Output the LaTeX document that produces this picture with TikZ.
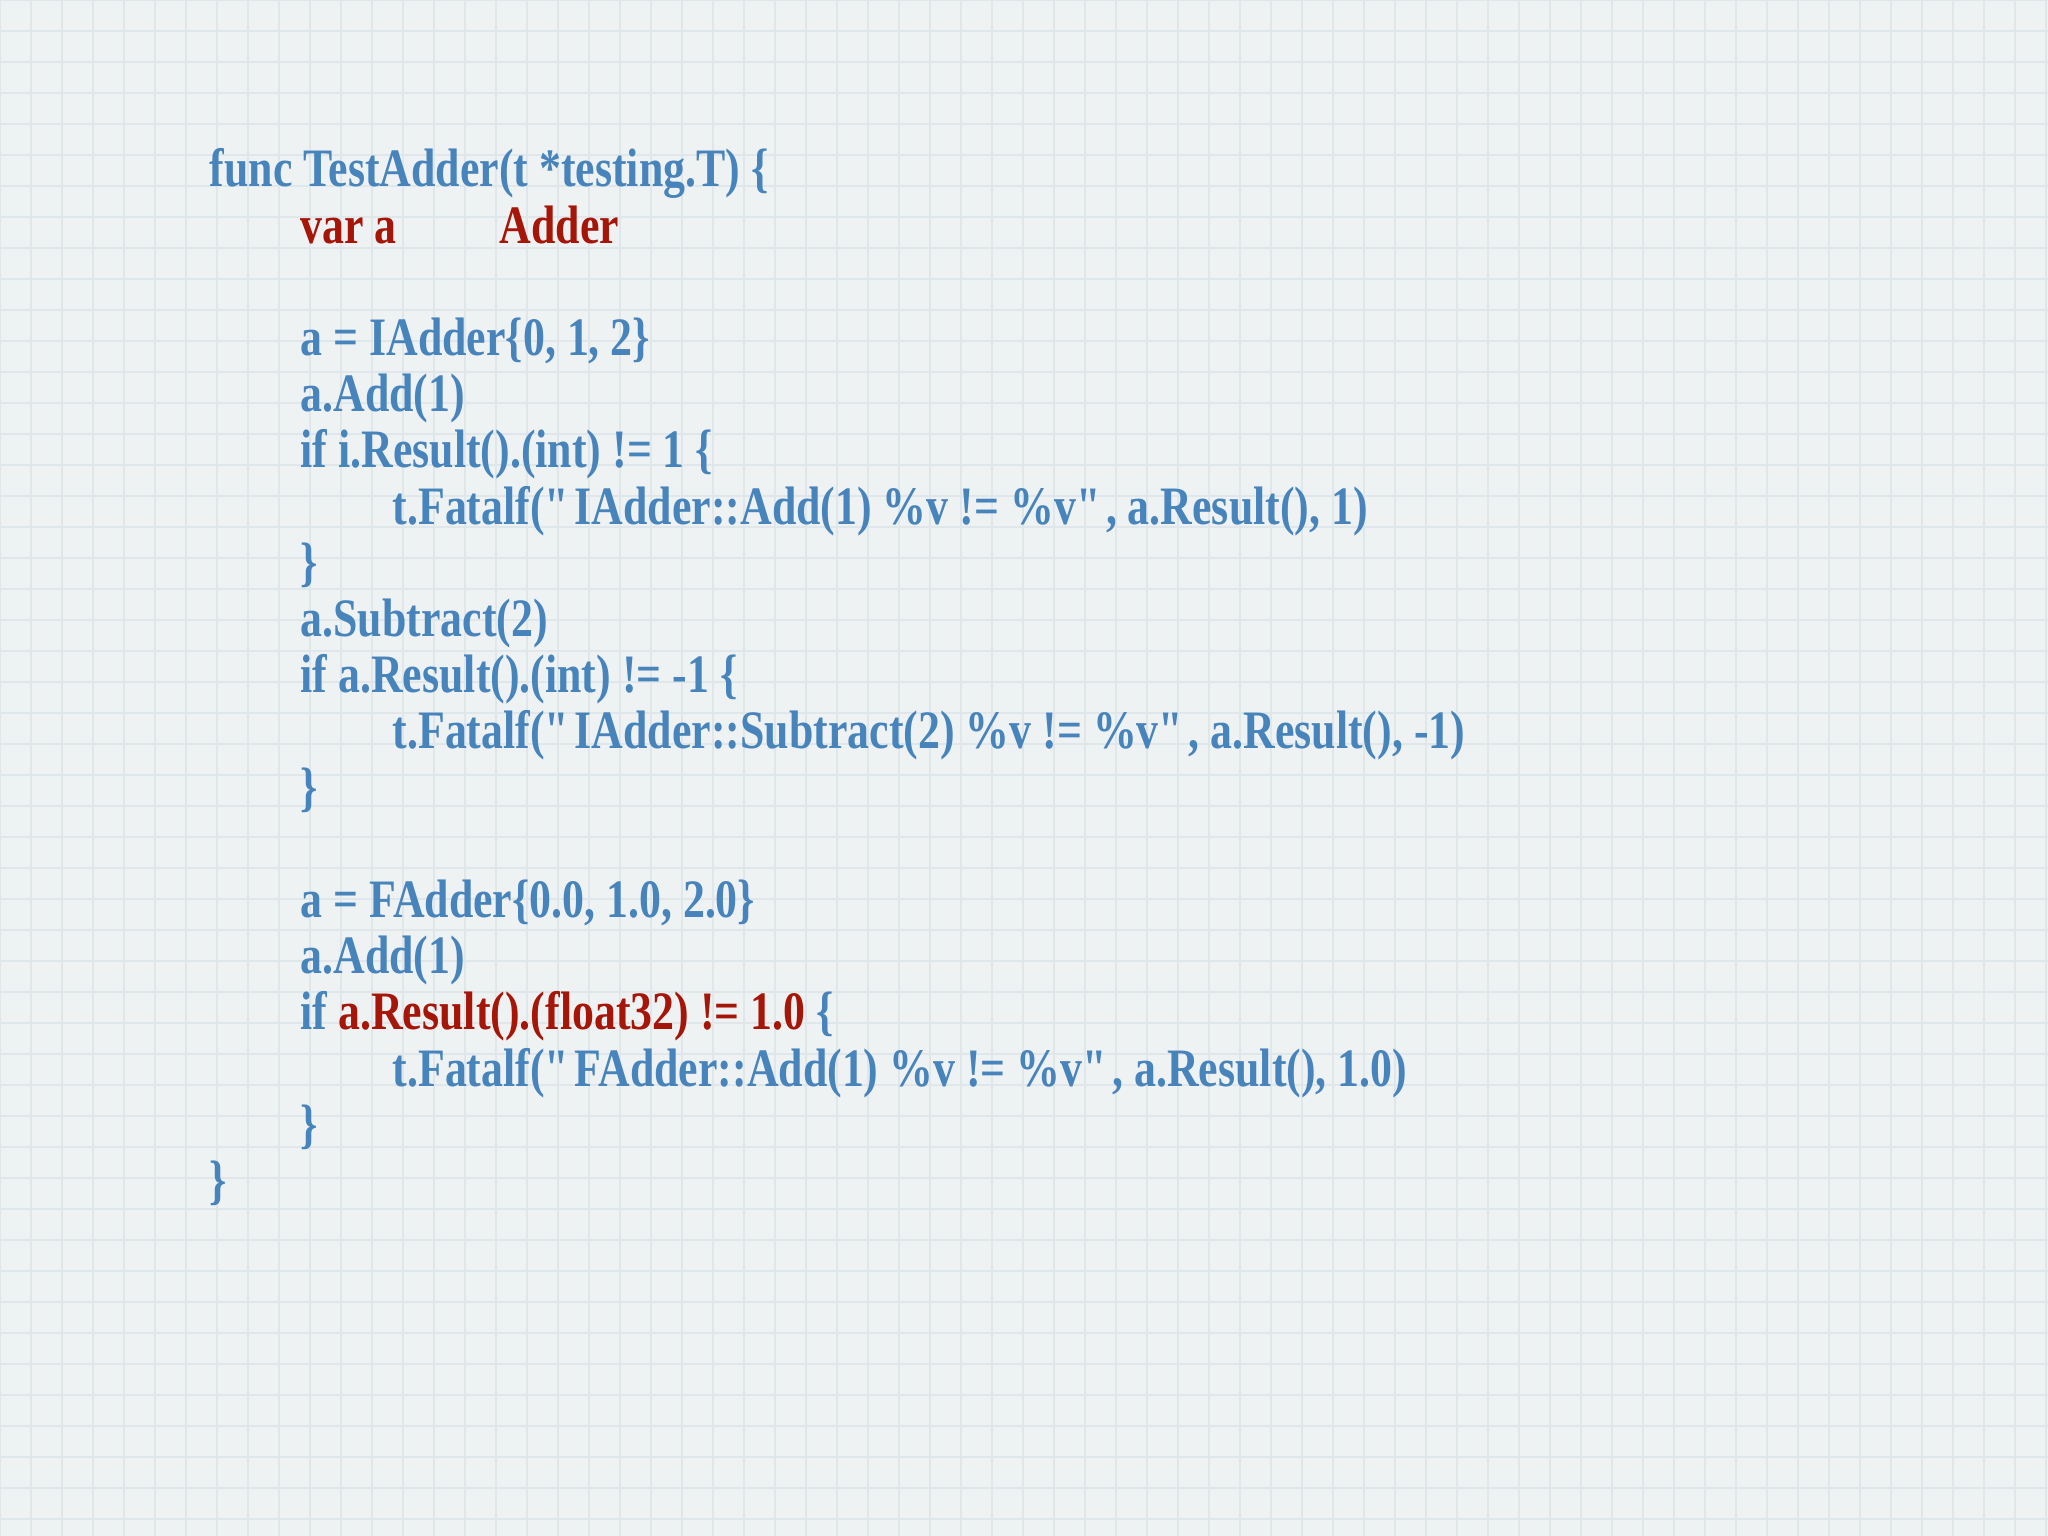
\documentclass[tikz,border=0pt]{standalone}
\usepackage{fontspec}
\setmainfont{Liberation Serif}[FakeStretch=0.81]
\definecolor{cb}{RGB}{72,132,188}
\definecolor{cr}{RGB}{165,22,8}
\definecolor{bg}{RGB}{239,242,243}
\definecolor{gl}{RGB}{224,231,234}
\begin{document}
\begin{tikzpicture}[x=1cm,y=1cm,
  code/.style={anchor=base west,inner sep=0pt,font=\fontsize{15.4}{15.4}\selectfont\bfseries,text=cb}]
\fill[bg] (0,0) rectangle (20.48,-15.36);
\useasboundingbox (0,0) rectangle (20.48,-15.36);
\draw[gl,line width=0.5pt,step=0.31] (0,0) grid (20.48,-15.36);
\def\L#1{-1.87-#1*0.562}
\def\q{\textquotedbl}
\node[code] (l0) at (2.09,{\L{0}}) {func TestAdder(t *testing.T) \{};
\node[code,text=cr] (l1) at (3.0,{\L{1}}) {var a\hspace{1.9em}Adder};
\node[code] (l3) at (3.0,{\L{3}}) {a = IAdder\{0, 1, 2\}};
\node[code] (l4) at (3.0,{\L{4}}) {a.Add(1)};
\node[code] (l5) at (3.0,{\L{5}}) {if i.Result().(int) != 1 \{};
\node[code] (l6) at (3.92,{\L{6}}) {t.Fatalf(\q{}IAdder::Add(1) \%v != \%v\q{}, a.Result(), 1)};
\node[code] (l7) at (3.0,{\L{7}}) {\}};
\node[code] (l8) at (3.0,{\L{8}}) {a.Subtract(2)};
\node[code] (l9) at (3.0,{\L{9}}) {if a.Result().(int) != -1 \{};
\node[code] (l10) at (3.92,{\L{10}}) {t.Fatalf(\q{}IAdder::Subtract(2) \%v != \%v\q{}, a.Result(), -1)};
\node[code] (l11) at (3.0,{\L{11}}) {\}};
\node[code] (l13) at (3.0,{\L{13}}) {a = FAdder\{0.0, 1.0, 2.0\}};
\node[code] (l14) at (3.0,{\L{14}}) {a.Add(1)};
\node[code] (l15) at (3.0,{\L{15}}) {if \textcolor{cr}{a.Result().(float32) != 1.0} \{};
\node[code] (l16) at (3.92,{\L{16}}) {t.Fatalf(\q{}FAdder::Add(1) \%v != \%v\q{}, a.Result(), 1.0)};
\node[code] (l17) at (3.0,{\L{17}}) {\}};
\node[code] (l18) at (2.09,{\L{18}}) {\}};
\end{tikzpicture}
\end{document}
